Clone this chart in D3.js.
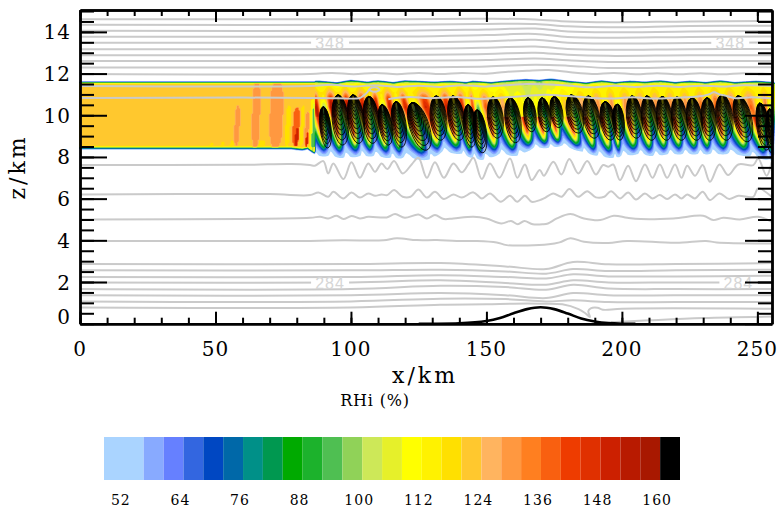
<!DOCTYPE html>
<html>
<head>
<meta charset="utf-8">
<script src="https://cdn.jsdelivr.net/npm/d3@7"></script>
<style>
html, body { margin: 0; background: #fff; }
svg { display: block; }
text { font-family: "DejaVu Serif", serif; fill: #000; }
</style>
</head>
<body>
<svg id="chart" width="779" height="508"></svg>
<script>
// colour levels of RHi (%), lower edge of each box
const rhiLevels = [48, 56, 60, 64, 68, 72, 76, 80, 84, 88, 92, 96, 100, 104, 108, 112, 116, 120, 124, 128, 132, 136, 140, 144, 148, 152, 156, 160];
const rhiColors = ["#aad4ff", "#88aaff", "#6680ff", "#3366e0", "#0047c2", "#0068a8", "#009088", "#009850", "#00aa00", "#1cb22c", "#4fbf52", "#90d258", "#cde858", "#e6f02a", "#ffff00", "#fff200", "#ffe000", "#ffc82e", "#ffb45f", "#ff9840", "#ff7f20", "#f96010", "#ee3c00", "#e03000", "#cc2000", "#b81a00", "#a81800", "#000000"];
const rhiLabels = [52, 64, 76, 88, 100, 112, 124, 136, 148, 160];

const xTicks = [0, 50, 100, 150, 200, 250];
const zTicks = [0, 2, 4, 6, 8, 10, 12, 14];

// the quiet part of the cloud layer, left of the waves
const leftProfileZ = [8.30, 8.36, 8.40, 8.44, 8.48, 8.54, 11.48, 11.53, 11.57, 11.60, 11.64];
const leftProfileV = [40, 50, 70, 90, 108, 122, 122, 110, 90, 66, 40];
const leftEdgeX = [0, 70, 78, 82, 84, 86, 88];
const leftEdgeZ = [8.42, 8.42, 8.42, 8.36, 8.42, 8.24, 8.10];
// stripes: x0, x1, z0, z1, RHi
const stripeX0 = [48, 52, 55.5, 66, 57, 63.5, 70, 76, 78.5, 79.4, 81.5, 83, 83.4, 84.8, 85.6];
const stripeX1 = [49, 53, 56.5, 68, 59, 66.5, 75, 77.5, 81, 80.6, 82.5, 84.5, 84.3, 87, 87];
const stripeZ0 = [8.4, 8.4, 8.4, 8.4, 8.5, 8.4, 8.4, 8.5, 8.5, 8.5, 8.5, 8.5, 8.5, 8.2, 8.3];
const stripeZ1 = [8.7, 8.75, 8.8, 8.8, 10.5, 11.7, 11.7, 10.5, 10.4, 9.4, 10.5, 10.2, 9.2, 10.9, 10.6];
const stripeV = [116, 116, 116, 116, 129, 129, 129, 116, 136, 150, 116, 130, 150, 112, 94];

// one entry per wave
const waveTopX = [89.7, 95.2, 100.7, 106.6, 111.4, 116.6, 122.5, 131.4, 137.6, 143.2, 146.5, 152.4, 158.7, 165.3, 170.5, 174.9, 181.2, 187.5, 193.7, 198.2, 203.7, 209.2, 214.8, 220.3, 225.8, 231.4, 236.9, 242.8, 250.9, 254.6];
const waveBotX = [91.5, 97.0, 103.0, 108.1, 114.0, 118.8, 128.0, 133.2, 140.2, 144.6, 148.7, 154.2, 160.9, 166.8, 172.3, 176.8, 184.1, 190.0, 196.0, 199.3, 205.5, 211.1, 216.6, 222.1, 227.7, 232.5, 238.7, 246.5, 253.5, 255.3];
const waveTopZ = [10.4, 10.97, 10.97, 10.9, 10.5, 10.65, 10.6, 10.92, 10.92, 10.5, 10.25, 10.87, 10.83, 10.83, 10.83, 10.9, 10.97, 10.92, 10.65, 10.53, 10.92, 10.92, 10.9, 10.87, 10.83, 10.83, 10.97, 10.92, 10.58, 10.3];
const waveBotZ = [8.43, 8.57, 8.65, 8.65, 8.57, 8.47, 8.33, 8.8, 8.8, 8.47, 8.2, 8.9, 8.68, 9.2, 9.2, 9.4, 9.14, 8.9, 8.8, 8.8, 8.9, 8.8, 8.8, 8.8, 8.8, 8.8, 8.8, 8.73, 8.33, 8.2];
const waveHalfW = [1.7, 2.5, 2.5, 2.4, 2.0, 2.2, 3.0, 2.5, 2.5, 1.9, 2.0, 2.4, 2.4, 1.9, 1.9, 1.9, 2.5, 2.5, 2.3, 1.8, 2.4, 2.4, 2.4, 2.4, 2.4, 2.3, 2.6, 2.7, 2.0, 1.6];
const waveLow = [8.0, 7.9, 8.0, 8.0, 7.9, 7.9, 7.8, 8.2, 8.1, 7.9, 7.8, 8.1, 8.0, 8.4, 8.4, 8.5, 8.2, 8.0, 7.9, 8.0, 8.1, 8.0, 8.1, 8.1, 8.1, 8.1, 8.1, 8.0, 7.8, 7.8];
const waveTopEdge = [11.62, 11.55, 11.66, 11.58, 11.64, 11.56, 11.64, 11.58, 11.62, 11.56, 11.62, 11.56, 11.64, 11.7, 11.66, 11.72, 11.62, 11.54, 11.64, 11.56, 11.62, 11.58, 11.64, 11.56, 11.62, 11.56, 11.64, 11.56, 11.62, 11.58];
const waveHeat = [1.2, 1.2, 1.1, 1.0, 1.1, 1.0, 0.9, 1.0, 1.0, 0.9, 0.8, 0.7, 0.4, 0.2, 0.2, 0.3, 0.4, 0.5, 0.5, 0.5, 0.5, 0.5, 0.5, 0.5, 0.5, 0.7, 0.7, 0.7, 0.6, 0.6];
const waveDrop = [0, 0, 0, 0, 0, 0, 0, 0, 0, 0, 2, 3, 7, 11, 10, 6, 3, 1, 0, 0, 0, 0, 0, 0, 0, 0, 0, 0, 0, 0];

// RHi between two waves: rows by height, columns by place from one oval to the next
const cellZ = [11.66, 11.61, 11.57, 11.52, 11.35, 11.1, 10.8, 10.4, 10.0, 9.6, 9.2, 8.8, 8.5, 8.3, 8.2];
const cellRows = [
  [40, 40, 40, 40, 40, 40, 40, 40],
  [66, 66, 66, 68, 68, 68, 66, 66],
  [88, 88, 90, 92, 92, 92, 90, 88],
  [106, 106, 108, 110, 110, 110, 108, 106],
  [112, 112, 114, 116, 118, 116, 114, 112],
  [116, 116, 118, 122, 126, 124, 120, 116],
  [116, 114, 122, 134, 144, 140, 126, 116],
  [100, 96, 114, 134, 152, 148, 130, 110],
  [92, 84, 104, 120, 138, 152, 136, 108],
  [94, 76, 88, 104, 122, 146, 144, 110],
  [88, 64, 72, 86, 102, 124, 146, 114],
  [72, 54, 60, 68, 78, 94, 108, 92],
  [56, 48, 50, 54, 58, 64, 68, 62],
  [48, 42, 44, 48, 50, 52, 52, 50],
  [40, 40, 40, 40, 40, 40, 40, 40]
];
const ringSizes = [1, 0.9, 0.8, 0.7, 0.6, 0.5, 0.42, 0.34, 0.27, 0.2];

// potential temperature lines, z in km
const upperX = [0, 120, 150, 168, 180, 195, 225, 256];
const upperLines = [
  [14.61, 14.61, 14.63, 14.60, 14.50, 14.46, 14.50, 14.52],
  [14.34, 14.34, 14.38, 14.38, 14.27, 14.22, 14.28, 14.30],
  [14.05, 14.06, 14.12, 14.16, 14.02, 13.98, 14.02, 14.04],
  [13.77, 13.78, 13.85, 13.90, 13.75, 13.72, 13.76, 13.78],
  [13.48, 13.49, 13.55, 13.62, 13.48, 13.44, 13.47, 13.49],
  [13.17, 13.18, 13.24, 13.30, 13.18, 13.14, 13.17, 13.18],
  [12.88, 12.89, 12.94, 13.00, 12.90, 12.85, 12.88, 12.88],
  [12.60, 12.61, 12.65, 12.72, 12.64, 12.56, 12.60, 12.60],
  [12.29, 12.30, 12.34, 12.42, 12.38, 12.27, 12.30, 12.30]
];
const rippleX = [0, 85, 93, 101, 109, 117, 125, 133, 141, 149, 157, 165, 173, 181, 189, 197, 205, 213, 221, 229, 237, 245, 256];
const rippleZ1 = [11.98, 11.98, 12.03, 11.97, 12.03, 11.97, 12.03, 11.98, 12.03, 11.99, 12.08, 12.14, 12.17, 12.06, 11.98, 12.03, 11.97, 12.02, 11.97, 12.02, 11.97, 12.02, 11.98];
const rippleZ2 = [11.40, 11.40, 11.46, 11.38, 11.44, 11.36, 11.42, 11.36, 11.44, 11.38, 11.44, 11.50, 11.48, 11.42, 11.34, 11.42, 11.36, 11.42, 11.36, 11.42, 11.38, 11.44, 11.40];
const midLineAX = [0, 60, 85, 95, 103, 104.5, 106, 107, 109, 110.5, 109.5, 107.5, 106.6];
const midLineAZ = [10.83, 10.85, 10.83, 10.82, 10.82, 10.93, 11.1, 11.28, 11.34, 11.24, 11.14, 11.16, 11.26];
const midLineBX = [113.8, 118, 122, 129, 135, 140, 148, 156, 164, 172, 180, 188, 196, 204, 212, 220, 228, 232, 234, 236, 238, 242, 248, 256];
const midLineBZ = [10.77, 10.85, 10.88, 10.82, 10.85, 10.87, 10.79, 10.85, 10.92, 10.98, 10.92, 10.84, 10.80, 10.86, 10.80, 10.84, 10.90, 11.0, 11.1, 11.0, 10.95, 10.82, 10.86, 10.80];

const waveLine1X = [0, 60, 78, 84.9, 86.7, 89.8, 91.6, 93.5, 97.2, 100.2, 103.3, 106.4, 108.9, 111.3, 113.4, 115.9, 119.1, 122.4, 124.9, 128, 131, 134.3, 137.8, 140.9, 143.3, 145.2, 148.3, 151.3, 154.8, 158.7, 161.4, 164.2, 166.7, 169.7, 171.2, 174.7, 177.7, 180.6, 183.9, 187.2, 190.4, 193.1, 195, 196.8, 199.3, 202.3, 205.2, 208.5, 211.3, 214, 216.7, 219.6, 222, 224.1, 227, 229.8, 232.5, 236, 239.2, 243, 248.5, 250.3, 253.4, 255.3];
const waveLine1Z = [7.61, 7.62, 7.66, 7.61, 7.58, 7.80, 7.21, 7.69, 6.94, 7.74, 7.00, 7.69, 7.29, 7.69, 7.42, 7.80, 7.21, 7.64, 7.96, 7.00, 7.74, 7.00, 7.69, 7.26, 7.64, 7.96, 6.94, 7.69, 7.00, 7.93, 7.00, 7.64, 6.89, 7.37, 7.10, 7.77, 7.16, 7.90, 7.21, 7.80, 7.16, 7.61, 7.53, 7.64, 6.89, 7.58, 6.84, 7.64, 7.00, 7.64, 7.00, 7.64, 7.00, 7.58, 7.10, 7.61, 6.81, 7.64, 7.13, 7.64, 7.61, 7.93, 7.10, 7.77];
const waveLine2X = [0, 70, 84.9, 88, 91.6, 93.5, 97.2, 100.2, 103.3, 106.4, 108.9, 111.3, 113.4, 115.9, 119.1, 122, 124.9, 128, 131, 134.3, 137.8, 140.9, 145.2, 148.3, 151.3, 155.3, 158.7, 161.4, 164.2, 166.7, 169.7, 171.2, 174.7, 177.7, 180.6, 183.9, 187.2, 190.4, 193.5, 196, 199.3, 202.3, 205.2, 208.5, 211.3, 214, 216.7, 219.6, 222, 224.1, 227, 229.8, 232.5, 236, 239.6, 243, 248.5, 250.3, 255.3];
const waveLine2Z = [6.20, 6.22, 6.17, 6.30, 6.09, 6.33, 6.01, 6.30, 6.05, 6.25, 6.14, 6.20, 6.17, 6.41, 6.09, 6.09, 6.44, 6.05, 6.33, 5.98, 6.20, 6.05, 6.30, 6.01, 6.25, 5.85, 6.14, 5.85, 6.14, 5.85, 5.93, 6.01, 6.25, 6.09, 6.46, 6.09, 6.36, 6.06, 6.09, 6.36, 6.01, 6.30, 5.96, 6.25, 6.01, 6.17, 5.98, 6.20, 6.01, 6.20, 6.01, 6.33, 5.93, 6.25, 5.98, 6.14, 6.09, 6.49, 6.09];
const waveLine3X = [0, 84.9, 88.6, 91.6, 94.7, 97.2, 100.2, 103.3, 106.4, 113.2, 116.3, 119.9, 124.9, 128, 131, 134.3, 137.8, 145.2, 150, 155.5, 159.1, 161.6, 164, 167.1, 170.8, 172.7, 176, 181, 186, 192, 197, 202, 207, 219, 230, 233.7, 237.4, 243.5, 250.3, 255.3];
const waveLine3Z = [5.00, 5.08, 5.13, 5.05, 5.18, 5.02, 5.17, 5.05, 5.13, 5.10, 5.26, 5.08, 5.24, 5.05, 5.21, 5.02, 5.05, 5.13, 5.05, 4.81, 4.93, 4.77, 4.93, 4.77, 4.77, 4.81, 5.05, 5.26, 5.05, 4.97, 5.18, 5.08, 5.02, 5.05, 5.18, 4.97, 5.08, 5.00, 5.13, 4.89];
const waveLine4X = [0, 84.9, 97.2, 112, 116.9, 124.3, 131.7, 139, 146.4, 153.8, 157.5, 173, 177, 181, 186, 195, 202, 220, 231, 235, 255.3];
const waveLine4Z = [3.97, 3.97, 4.00, 4.00, 4.10, 4.01, 4.01, 3.97, 3.97, 3.90, 3.77, 3.81, 3.90, 4.10, 3.93, 3.87, 3.97, 3.88, 3.97, 3.90, 3.85];

const lowerX = [0, 100, 133, 157, 172, 182, 195, 220, 256];
const lowerLines = [
  [2.86, 2.86, 2.91, 2.75, 2.62, 2.96, 2.85, 2.86, 2.91],
  [2.56, 2.56, 2.59, 2.51, 2.40, 2.62, 2.53, 2.56, 2.59],
  [2.24, 2.24, 2.33, 2.24, 2.17, 2.37, 2.27, 2.27, 2.30],
  [1.98, 1.98, 2.08, 1.95, 1.87, 2.08, 1.98, 1.98, 1.98],
  [1.66, 1.66, 1.82, 1.76, 1.63, 1.87, 1.69, 1.66, 1.66],
  [1.36, 1.36, 1.47, 1.37, 1.23, 1.47, 1.37, 1.36, 1.36],
  [1.07, 1.07, 1.20, 1.18, 1.07, 1.12, 1.04, 1.04, 1.04]
];
const lowLineAX = [0, 100, 133, 150, 160, 170, 178, 184, 186.5, 188.2, 187.6, 188.5, 191, 193, 200, 256];
const lowLineAZ = [0.78, 0.78, 0.91, 0.93, 0.96, 0.96, 0.93, 0.70, 0.50, 0.32, 0.60, 0.74, 0.77, 0.67, 0.72, 0.72];
const lowLineBX = [196, 210, 230, 256];
const lowLineBZ = [0.07, 0.16, 0.27, 0.34];

const hillX = [125, 130, 140, 150, 155, 160, 165, 170, 175, 180, 185, 190, 195, 200, 205];
const hillZ = [0, 0, 0.02, 0.13, 0.27, 0.50, 0.70, 0.79, 0.70, 0.49, 0.25, 0.11, 0.03, 0, 0];

const svg = d3.select("#chart");
const x = d3.scaleLinear().domain([0, 255.4]).range([80, 772]);
const y = d3.scaleLinear().domain([0, 15.05]).range([323.7, 10]);
const lineColor = "#cacaca";

svg.append("clipPath").attr("id", "plot-clip").append("rect")
  .attr("x", x.range()[0]).attr("y", y.range()[1])
  .attr("width", x.range()[1] - x.range()[0])
  .attr("height", y.range()[0] - y.range()[1]);

// ---- fill the RHi grid
const dx = 0.5, dz = 0.05, z0 = 7.6;
const nx = Math.round(256 / dx) + 1, nz = Math.round((12 - z0) / dz) + 1;
const field = new Float64Array(nx * nz).fill(40);

const leftV = d3.scaleLinear().domain(leftProfileZ).range(leftProfileV).clamp(true);
const leftEdge = d3.scaleLinear().domain(leftEdgeX).range(leftEdgeZ).clamp(true);
const rowOf = d3.scaleLinear().domain(cellZ).range(cellZ.map((d, i) => i)).clamp(true);
const nColumns = cellRows[0].length;

const axes = waveTopX.map((d, i) => d3.scaleLinear().domain([waveBotZ[i], waveTopZ[i]]).range([waveBotX[i], waveTopX[i]]));

function cellValue(phase, row) {
  const c = phase * nColumns;
  const c0 = Math.floor(c) % nColumns, c1 = (c0 + 1) % nColumns, fc = c - Math.floor(c);
  const r0 = Math.min(Math.floor(row), cellZ.length - 2), fr = row - r0;
  const top = cellRows[r0][c0] * (1 - fc) + cellRows[r0][c1] * fc;
  const bot = cellRows[r0 + 1][c0] * (1 - fc) + cellRows[r0 + 1][c1] * fc;
  return top * (1 - fr) + bot * fr;
}

function waveValue(px, pz) {
  const positions = axes.map(a => a(pz));
  let i = -1;
  positions.forEach((p, k) => { if (p <= px) i = k; });
  const left = i < 0 ? positions[0] - 6 : positions[i];
  const right = i >= positions.length - 1 ? positions[i] + 6 : positions[i + 1];
  const phase = Math.min(0.999, Math.max(0, (px - left) / (right - left)));
  const a = Math.max(i, 0), b = Math.min(i + 1, positions.length - 1);
  const mix = (p, q) => p * (1 - phase) + q * phase;
  const low = mix(waveLow[a], waveLow[b]);
  const topEdge = mix(waveTopEdge[a], waveTopEdge[b]);
  let zz = pz;
  if (pz < 9.6) zz = 9.6 - (9.6 - pz) * (9.6 - 8.25) / (9.6 - low);
  if (pz > 11.1) zz = 11.1 + (pz - 11.1) * (11.6 - 11.1) / (topEdge - 11.1);
  if (zz > 11.66 || zz < 8.2) return 40;
  let v = cellValue(phase, rowOf(zz));
  if (zz > 9.9 && zz < 11.5) {
    if (v > 114) v = 114 + (v - 114) * mix(waveHeat[a], waveHeat[b]);
    v -= mix(waveDrop[a], waveDrop[b]);
  }
  return v;
}

// stripes narrow to a rounded tip at both ends and lean a little
function inStripe(k, px, pz) {
  const mid = (stripeZ0[k] + stripeZ1[k]) / 2, half = (stripeZ1[k] - stripeZ0[k]) / 2;
  const t = (pz - mid) / half;
  if (Math.abs(t) > 1) return false;
  const w = (stripeX1[k] - stripeX0[k]) / 2 * Math.sqrt(1 - t * t * t * t);
  const c = (stripeX0[k] + stripeX1[k]) / 2 + 0.35 * t;
  return Math.abs(px - c) <= w;
}

for (let j = 0; j < nz; j++) {
  const pz = z0 + j * dz;
  for (let i = 0; i < nx; i++) {
    const px = i * dx;
    let v;
    if (px < 87) {
      const shifted = pz < 9 ? pz + (8.42 - leftEdge(px)) : pz;
      v = leftV(shifted);
      if (v >= 108) {
        stripeV.forEach((s, k) => { if (inStripe(k, px, pz)) v = s; });
      }
    } else {
      v = waveValue(px, pz);
    }
    field[i + j * nx] = v;
  }
}

const contours = d3.contours().size([nx, nz]).smooth(true).thresholds(rhiLevels)(field);
const gridPath = d3.geoPath(d3.geoTransform({
  point(gx, gz) { this.stream.point(x((gx - 0.5) * dx), y(z0 + (gz - 0.5) * dz)); }
}));

svg.append("g").selectAll("path")
  .data(contours)
  .enter().append("path")
  .attr("d", gridPath)
  .attr("fill-rule", "evenodd")
  .attr("fill", (d, i) => rhiColors[i]);

// ---- black cloud rings, nested so they darken towards the top of each oval
const rings = svg.append("g")
  .attr("clip-path", "url(#plot-clip)")
  .attr("fill", "#000")
  .attr("fill-opacity", 0.1)
  .attr("stroke", "#000")
  .attr("stroke-width", 0.8);
waveTopX.forEach((d, i) => {
  const tx = x(waveTopX[i]), tz = y(waveTopZ[i]);
  const bx = x(waveBotX[i]), bz = y(waveBotZ[i]);
  const angle = Math.atan2(bx - tx, bz - tz) * 180 / Math.PI;
  const half = x(waveHalfW[i]) - x(0);
  rings.selectAll(null)
    .data(ringSizes)
    .enter().append("ellipse")
    .attr("cx", f => tx + (bx - tx) * f / 2)
    .attr("cy", f => tz + (bz - tz) * f / 2)
    .attr("rx", f => half * 1.2 * f)
    .attr("ry", f => Math.hypot(bx - tx, bz - tz) * f / 2)
    .attr("transform", f => `rotate(${-angle} ${tx + (bx - tx) * f / 2} ${tz + (bz - tz) * f / 2})`);
});

// ---- grey lines
const grey = svg.append("g").attr("fill", "none").attr("stroke", lineColor).attr("stroke-width", 2);
const line = d3.line().x(d => x(d[0])).y(d => y(d[1])).curve(d3.curveCatmullRom);
const addLine = (xs, zs) => grey.append("path").attr("d", line(xs.map((d, i) => [d, zs[i]])));
upperLines.forEach(zs => addLine(upperX, zs));
addLine(rippleX, rippleZ1);
addLine(rippleX, rippleZ2);
addLine(midLineAX, midLineAZ);
addLine(midLineBX, midLineBZ);
addLine(waveLine1X, waveLine1Z);
addLine(waveLine2X, waveLine2Z);
addLine(waveLine3X, waveLine3Z);
addLine(waveLine4X, waveLine4Z);
lowerLines.forEach(zs => addLine(lowerX, zs));
addLine(lowLineAX, lowLineAZ);
addLine(lowLineBX, lowLineBZ);

// contour labels sit in a gap of their own line
const labelText = ["348", "348", "284", "284"];
const labelX = [92.3, 240, 92.3, 243];
const labelZ = [13.48, 13.48, 1.96, 1.96];
svg.append("g").selectAll("rect")
  .data(labelText)
  .enter().append("rect")
  .attr("x", (d, i) => x(labelX[i]) - 19)
  .attr("y", (d, i) => y(labelZ[i]) - 3)
  .attr("width", 38)
  .attr("height", 6)
  .attr("fill", "#fff");
svg.append("g").selectAll("text")
  .data(labelText)
  .enter().append("text")
  .attr("x", (d, i) => x(labelX[i]))
  .attr("y", (d, i) => y(labelZ[i]) + 6)
  .attr("text-anchor", "middle")
  .style("font-family", "'Liberation Sans', sans-serif")
  .style("font-size", "16px")
  .style("letter-spacing", "1px")
  .style("fill", "#d6d6d6")
  .text(d => d);

// ---- hill
svg.append("path")
  .attr("fill", "none")
  .attr("stroke", "#000")
  .attr("stroke-width", 2.6)
  .attr("d", d3.line().x((d, i) => x(d)).y((d, i) => y(hillZ[i])).curve(d3.curveCatmullRom)(hillX));

// ---- axes
const xMinor = d3.range(0, 256, 10);
const zMinor = d3.range(0, 15.01, 0.5);
const styleAxis = g => {
  g.select(".domain").attr("stroke", "#000").attr("stroke-width", 2.4);
  g.selectAll("line").attr("stroke", "#000").attr("stroke-width", 2);
};
const plain = (scale, make, values, size) => make(scale).tickValues(values).tickSize(size).tickSizeOuter(0).tickFormat("");

[[xMinor, 6], [xTicks, 12]].forEach(([vals, size]) => {
  svg.append("g").attr("transform", `translate(0,${y(0)})`).call(plain(x, d3.axisTop, vals, size)).call(styleAxis);
  svg.append("g").attr("transform", `translate(0,${y.range()[1]})`).call(plain(x, d3.axisBottom, vals, size)).call(styleAxis);
});
[[zMinor, 14], [zTicks, 27]].forEach(([vals, size]) => {
  svg.append("g").attr("transform", `translate(${x.range()[0]},0)`).call(plain(y, d3.axisRight, vals, size)).call(styleAxis);
  svg.append("g").attr("transform", `translate(${x.range()[1]},0)`).call(plain(y, d3.axisLeft, vals, size)).call(styleAxis);
});

svg.append("g").selectAll("text")
  .data(xTicks)
  .enter().append("text")
  .attr("x", d => x(d))
  .attr("y", 356)
  .attr("text-anchor", "middle")
  .style("font-size", "20px")
  .style("letter-spacing", "1px")
  .text(d => d);

svg.append("g").selectAll("text")
  .data(zTicks)
  .enter().append("text")
  .attr("x", 71)
  .attr("y", d => d === 0 ? 324 : y(d) + 7.5)
  .attr("text-anchor", "end")
  .style("font-size", "20px")
  .style("letter-spacing", "1px")
  .text(d => d);

svg.append("text")
  .attr("x", 425).attr("y", 383)
  .attr("text-anchor", "middle")
  .style("font-size", "22px")
  .style("letter-spacing", "3px")
  .text("x/km");

svg.append("text")
  .attr("transform", "translate(25,167) rotate(-90)")
  .attr("text-anchor", "middle")
  .style("font-size", "22px")
  .style("letter-spacing", "3px")
  .text("z/km");

svg.append("text")
  .attr("x", 375).attr("y", 406)
  .attr("text-anchor", "middle")
  .style("font-size", "16px")
  .style("letter-spacing", "0.8px")
  .text("RHi (%)");

// ---- colour bar
const bar = d3.scaleLinear().domain([48, 164]).range([104, 680]);
const barEdges = rhiLevels.concat([164]);
svg.append("g").selectAll("rect")
  .data(rhiColors)
  .enter().append("rect")
  .attr("x", (d, i) => bar(barEdges[i]))
  .attr("y", 437)
  .attr("width", (d, i) => bar(barEdges[i + 1]) - bar(barEdges[i]))
  .attr("height", 43)
  .attr("fill", d => d);

svg.append("g").selectAll("text")
  .data(rhiLabels)
  .enter().append("text")
  .attr("x", d => bar(d) - 3)
  .attr("y", 505)
  .attr("text-anchor", "middle")
  .style("font-size", "14px")
  .style("letter-spacing", "1px")
  .text(d => d);
</script>
</body>
</html>
